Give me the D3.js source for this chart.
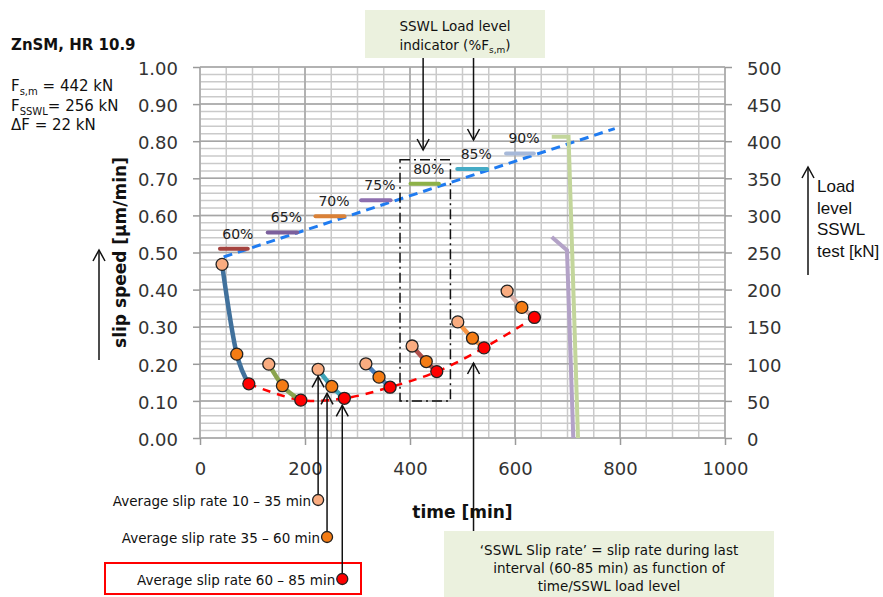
<!DOCTYPE html>
<html lang="en">
<head>
    <meta charset="UTF-8">
    <title>ZnSM, HR 10.9 - SSWL slip rate</title>
    <script src="https://cdn.jsdelivr.net/npm/d3@7/dist/d3.min.js"></script>
    <style>
        body { margin: 0; background: #fff; }
        svg { display: block; font-family: 'DejaVu Sans', sans-serif; }
    </style>
</head>
<body>
    <script>
        //slip speed per load step: 10-35, 35-60, 60-85 min averages
        var stepTimes = [[42, 70, 93], [131, 157, 192], [225, 251, 275], [316, 341, 362],
                         [404, 431, 451], [491, 519, 541], [585, 613, 637]];
        var stepSpeeds = [[0.468, 0.226, 0.146], [0.199, 0.141, 0.102], [0.185, 0.139, 0.107],
                          [0.200, 0.164, 0.137], [0.248, 0.206, 0.179], [0.313, 0.269, 0.243],
                          [0.396, 0.352, 0.325]];
        var stepColors = ['#41719c', '#8aa34e', '#3fa3b8', '#4a7ebb', '#b0504c', '#f79646', '#d8b0a8'];
        var dotColors = ['#f9ac80', '#f47c14', '#ff0000'];

        //load level indicators
        var levelLabels = ['60%', '65%', '70%', '75%', '80%', '85%', '90%'];
        var levelStart = [38, 129, 220, 307, 401, 490, 583];
        var levelEnd = [91, 185, 275, 363, 455, 547, 636];
        var levelSpeed = [0.510, 0.554, 0.598, 0.641, 0.685, 0.725, 0.767];
        var levelColors = ['#a5433f', '#7b5f9c', '#da8137', '#8e6faf', '#8db148', '#45abc5', '#a7b9d9'];

        //SSWL load (right axis, kN)
        var loadTimes = [45, 790];
        var loadKN = [244, 417];
        var stopGreenTimes = [670, 702, 720];
        var stopGreenKN = [406, 406, 0];
        var stopPurpleTimes = [670, 699, 711];
        var stopPurpleKN = [271, 253, 0];

        var w = 883;
        var h = 597;

        var xScale = d3.scaleLinear().domain([0, 1000]).range([200, 725]);
        var yScale = d3.scaleLinear().domain([0, 1]).range([438, 67]);
        var yRight = d3.scaleLinear().domain([0, 500]).range([438, 67]);

        var svg = d3.select('body')
                    .append('svg')
                    .attr('width', w)
                    .attr('height', h);

        svg.append('rect').attr('width', w).attr('height', h).attr('fill', '#fff');

        //gridlines
        var grid = svg.append('g');
        grid.selectAll('.hmin')
            .data(yScale.ticks(50))
            .enter()
            .append('line')
            .attr('x1', 200).attr('x2', 725)
            .attr('y1', function(d) { return yScale(d); })
            .attr('y2', function(d) { return yScale(d); })
            .attr('stroke', '#cacaca')
            .attr('stroke-width', 1.5);
        grid.selectAll('.vmin')
            .data(xScale.ticks(25))
            .enter()
            .append('line')
            .attr('y1', 67).attr('y2', 438)
            .attr('x1', function(d) { return xScale(d); })
            .attr('x2', function(d) { return xScale(d); })
            .attr('stroke', '#cacaca')
            .attr('stroke-width', 1.5);
        grid.selectAll('.hmaj')
            .data(yScale.ticks(10))
            .enter()
            .append('line')
            .attr('x1', 200).attr('x2', 725)
            .attr('y1', function(d) { return yScale(d); })
            .attr('y2', function(d) { return yScale(d); })
            .attr('stroke', '#a6a6a6')
            .attr('stroke-width', 1.5);
        grid.selectAll('.vmaj')
            .data(xScale.ticks(5))
            .enter()
            .append('line')
            .attr('y1', 67).attr('y2', 438)
            .attr('x1', function(d) { return xScale(d); })
            .attr('x2', function(d) { return xScale(d); })
            .attr('stroke', '#a6a6a6')
            .attr('stroke-width', 1.5);

        //axes
        function styleAxis(g) {
            g.select('.domain').remove();
            g.selectAll('.tick line').attr('stroke', '#9a9a9a').attr('stroke-width', 1.5);
            g.selectAll('.tick text').attr('fill', '#333').attr('font-size', '18px')
             .attr('font-family', "'DejaVu Sans', sans-serif");
        }
        svg.append('g')
           .attr('transform', 'translate(200,0)')
           .call(d3.axisLeft(yScale).ticks(10).tickFormat(d3.format('.2f')).tickSize(7).tickPadding(15))
           .call(styleAxis)
           .selectAll('.tick text').attr('dy', '0.4em');
        svg.append('g')
           .attr('transform', 'translate(725,0)')
           .call(d3.axisRight(yRight).ticks(10).tickSize(7).tickPadding(15))
           .call(styleAxis)
           .selectAll('.tick text').attr('dy', '0.4em');
        svg.append('g')
           .attr('transform', 'translate(0,438)')
           .call(d3.axisBottom(xScale).ticks(5).tickFormat(d3.format('d')).tickSize(7).tickPadding(17))
           .call(styleAxis);

        //load ramp
        var loadLine = d3.line()
            .x(function(d) { return xScale(d[0]); })
            .y(function(d) { return yRight(d[1]); });
        svg.append('path')
           .attr('d', loadLine(d3.zip(loadTimes, loadKN)))
           .attr('fill', 'none')
           .attr('stroke', '#1f7bf0')
           .attr('stroke-width', 3)
           .attr('stroke-dasharray', '9,6');
        svg.append('path')
           .attr('d', loadLine(d3.zip(stopPurpleTimes, stopPurpleKN)))
           .attr('fill', 'none')
           .attr('stroke', '#b3a2c7')
           .attr('stroke-width', 4);
        svg.append('path')
           .attr('d', loadLine(d3.zip(stopGreenTimes, stopGreenKN)))
           .attr('fill', 'none')
           .attr('stroke', '#c3d69b')
           .attr('stroke-width', 4);

        //load level indicators
        svg.selectAll('.level')
           .data(levelLabels)
           .enter()
           .append('line')
           .attr('x1', function(d, i) { return xScale(levelStart[i]); })
           .attr('x2', function(d, i) { return xScale(levelEnd[i]); })
           .attr('y1', function(d, i) { return yScale(levelSpeed[i]); })
           .attr('y2', function(d, i) { return yScale(levelSpeed[i]); })
           .attr('stroke', function(d, i) { return levelColors[i]; })
           .attr('stroke-width', 4)
           .attr('stroke-linecap', 'round');
        svg.selectAll('.levelText')
           .data(levelLabels)
           .enter()
           .append('text')
           .text(function(d) { return d; })
           .attr('x', function(d, i) { return xScale((levelStart[i] + levelEnd[i]) / 2) + 4; })
           .attr('y', function(d, i) { return yScale(levelSpeed[i]) - 10; })
           .attr('text-anchor', 'middle')
           .attr('font-size', '14px')
           .attr('fill', '#222');

        //dash-dot box round 80% step
        svg.append('rect')
           .attr('x', xScale(381))
           .attr('y', yScale(0.75))
           .attr('width', xScale(477) - xScale(381))
           .attr('height', yScale(0.1) - yScale(0.75))
           .attr('fill', 'none')
           .attr('stroke', '#111')
           .attr('stroke-width', 1.5)
           .attr('stroke-dasharray', '10,4,2,4');

        //SSWL slip rate trend through last interval points
        var lastPts = stepTimes.map(function(t, i) { return [t[2], stepSpeeds[i][2]]; });
        svg.append('path')
           .attr('d', d3.line()
                .x(function(d) { return xScale(d[0]); })
                .y(function(d) { return yScale(d[1]); })
                .curve(d3.curveCatmullRom)(lastPts))
           .attr('fill', 'none')
           .attr('stroke', '#ff0000')
           .attr('stroke-width', 2.5)
           .attr('stroke-dasharray', '8,7');

        //step lines and dots
        var speedLine = d3.line()
            .x(function(d) { return xScale(d[0]); })
            .y(function(d) { return yScale(d[1]); })
            .curve(d3.curveMonotoneX);
        stepTimes.forEach(function(t, i) {
            var pts = d3.zip(t, stepSpeeds[i]);
            svg.append('path')
               .attr('d', speedLine(pts))
               .attr('fill', 'none')
               .attr('stroke', stepColors[i])
               .attr('stroke-width', 4.5)
               .attr('stroke-linecap', 'round');
            svg.selectAll(null)
               .data(pts)
               .enter()
               .append('circle')
               .attr('cx', function(d) { return xScale(d[0]); })
               .attr('cy', function(d) { return yScale(d[1]); })
               .attr('r', 6)
               .attr('fill', function(d, j) { return dotColors[j]; })
               .attr('stroke', '#222')
               .attr('stroke-width', 1.3);
        });

        //arrow helper
        function arrow(x1, y1, x2, y2) {
            var g = svg.append('g').attr('stroke', '#111').attr('stroke-width', 1.5).attr('fill', 'none');
            g.append('line').attr('x1', x1).attr('y1', y1).attr('x2', x2).attr('y2', y2);
            var dir = y2 < y1 ? 1 : -1;
            g.append('polyline')
             .attr('points', (x2 - 6) + ',' + (y2 + dir * 11) + ' ' + x2 + ',' + y2 + ' ' + (x2 + 6) + ',' + (y2 + dir * 11));
        }

        //title and test data
        svg.append('text').attr('x', 11).attr('y', 50)
           .attr('font-size', '15px').attr('font-weight', 'bold').attr('fill', '#111')
           .text('ZnSM, HR 10.9');
        var t1 = svg.append('text').attr('x', 11).attr('y', 91).attr('font-size', '15px').attr('fill', '#111');
        t1.append('tspan').text('F');
        t1.append('tspan').attr('dy', 4).attr('font-size', '10px').text('s,m');
        t1.append('tspan').attr('dy', -4).text(' = 442 kN');
        var t2 = svg.append('text').attr('x', 11).attr('y', 111).attr('font-size', '15px').attr('fill', '#111');
        t2.append('tspan').text('F');
        t2.append('tspan').attr('dy', 4).attr('font-size', '10px').text('SSWL');
        t2.append('tspan').attr('dy', -4).text('= 256 kN');
        svg.append('text').attr('x', 11).attr('y', 130).attr('font-size', '15px').attr('fill', '#111')
           .text('\u0394F = 22 kN');

        //axis titles
        svg.append('text')
           .attr('transform', 'translate(126,' + yScale(0.5) + ') rotate(-90)')
           .attr('text-anchor', 'middle')
           .attr('font-size', '17px').attr('font-weight', 'bold').attr('fill', '#111')
           .text('slip speed [\u00b5m/min]');
        arrow(99, 360, 99, 250);
        svg.append('text')
           .attr('x', xScale(500)).attr('y', 518)
           .attr('text-anchor', 'middle')
           .attr('font-size', '17px').attr('font-weight', 'bold').attr('fill', '#111')
           .text('time [min]');

        //right axis note
        arrow(808, 275, 808, 167);
        svg.append('text')
           .attr('font-family', "'Liberation Sans', Arial, sans-serif")
           .attr('font-size', '17px').attr('fill', '#111')
           .selectAll('tspan')
           .data(['Load', 'level', 'SSWL', 'test [kN]'])
           .enter()
           .append('tspan')
           .attr('x', 817)
           .attr('y', function(d, i) { return 192 + i * 21.5; })
           .text(function(d) { return d; });

        //top note: load level indicator
        svg.append('rect').attr('x', 365).attr('y', 10).attr('width', 180).attr('height', 48).attr('fill', '#ebf1de');
        svg.append('text').attr('x', 455).attr('y', 31).attr('text-anchor', 'middle')
           .attr('font-size', '13.5px').attr('fill', '#111').text('SSWL Load level');
        var t3 = svg.append('text').attr('x', 455).attr('y', 50).attr('text-anchor', 'middle')
           .attr('font-size', '13.5px').attr('fill', '#111');
        t3.append('tspan').text('indicator (%F');
        t3.append('tspan').attr('dy', 3).attr('font-size', '9px').text('s,m');
        t3.append('tspan').attr('dy', -3).text(')');
        arrow(xScale(425), 58, xScale(425), 150);
        arrow(xScale(521), 58, xScale(521), 140);

        //bottom notes: averages
        var noteTimes = [225, 242, 271];
        var noteY = [500, 537, 579];
        var noteText = ['Average slip rate 10 \u2013 35 min', 'Average slip rate 35 \u2013 60 min', 'Average slip rate 60 \u2013 85 min'];
        svg.append('rect').attr('x', 105).attr('y', 563).attr('width', 256).attr('height', 31)
           .attr('fill', 'none').attr('stroke', '#ff0000').attr('stroke-width', 2);
        noteTimes.forEach(function(t, i) {
            arrow(xScale(t), noteY[i], xScale(t), yScale(stepSpeeds[2][i]) + 7);
            svg.append('circle')
               .attr('cx', xScale(t)).attr('cy', noteY[i]).attr('r', 5.5)
               .attr('fill', dotColors[i]).attr('stroke', '#222').attr('stroke-width', 1.3);
            svg.append('text')
               .attr('x', xScale(t) - 7).attr('y', noteY[i] + 6)
               .attr('text-anchor', 'end')
               .attr('font-size', '13.5px').attr('fill', '#111')
               .text(noteText[i]);
        });

        //bottom note: SSWL slip rate
        arrow(xScale(521), 536, xScale(521), 363);
        svg.append('rect').attr('x', 444).attr('y', 531).attr('width', 330).attr('height', 66).attr('fill', '#ebf1de');
        svg.append('text')
           .attr('text-anchor', 'middle')
           .attr('font-size', '13.5px').attr('fill', '#111')
           .selectAll('tspan')
           .data(['\u2018SSWL Slip rate\u2019 = slip rate during last', 'interval (60-85 min) as function of', 'time/SSWL load level'])
           .enter()
           .append('tspan')
           .attr('x', 609)
           .attr('y', function(d, i) { return 555 + i * 18; })
           .text(function(d) { return d; });
    </script>
</body>
</html>
